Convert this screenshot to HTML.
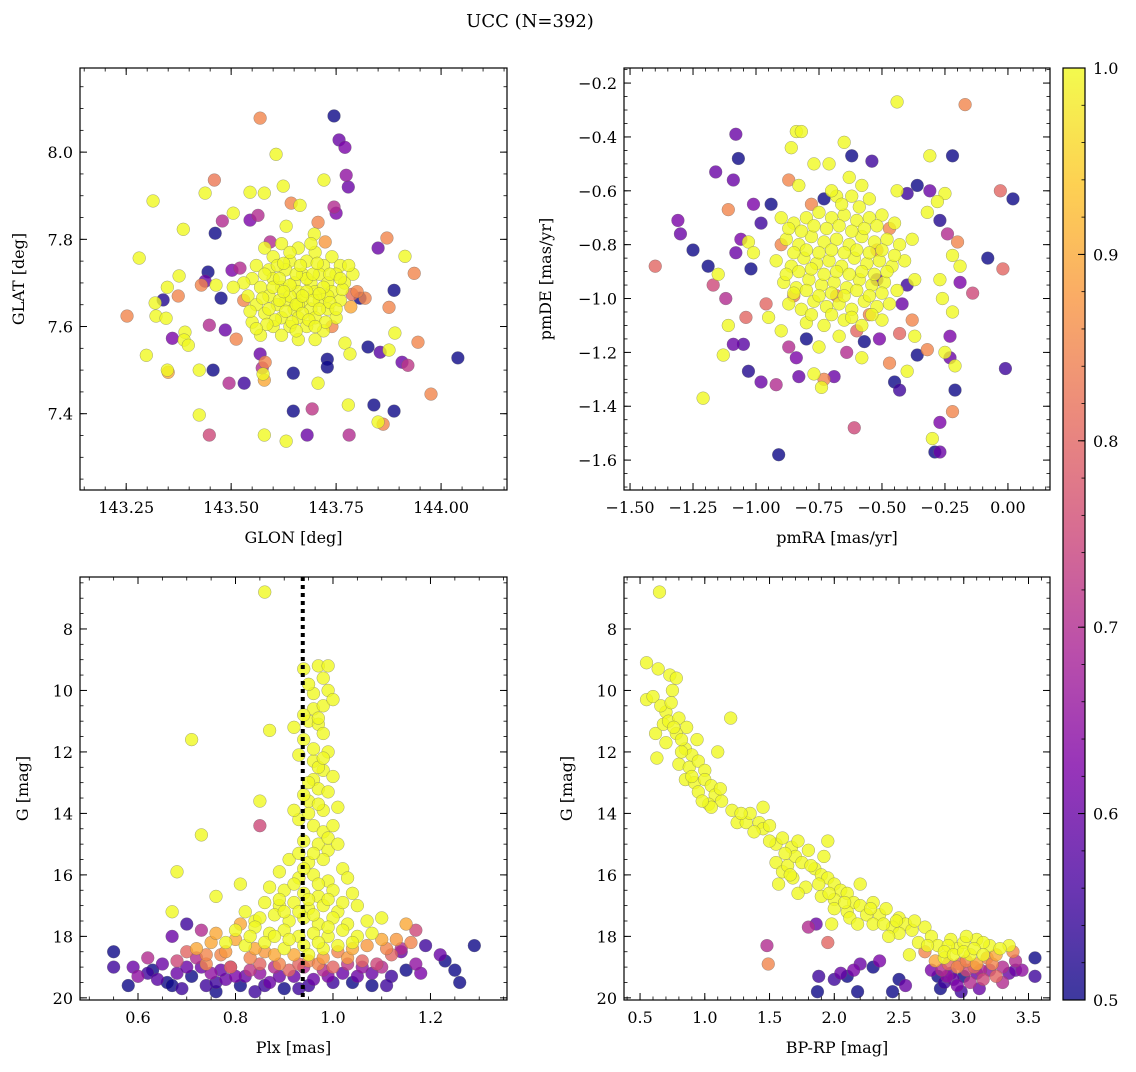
<!DOCTYPE html>
<html><head><meta charset="utf-8">
<style>
html,body{margin:0;padding:0;background:#fff;}
svg text{font-family:"DejaVu Serif","Liberation Serif",serif;fill:#000;}
</style></head>
<body>
<svg id="fig" width="1136" height="1067" viewBox="0 0 1136 1067" xmlns="http://www.w3.org/2000/svg">
<rect width="1136" height="1067" fill="#fff"/>
<text x="530" y="27" font-size="18" text-anchor="middle">UCC (N=392)</text>
<defs>
<linearGradient id="plasma" x1="0" y1="1" x2="0" y2="0">
<stop offset="0" stop-color="#0d0887"/><stop offset="0.125" stop-color="#4903a0"/><stop offset="0.25" stop-color="#7e03a8"/><stop offset="0.375" stop-color="#a92395"/><stop offset="0.5" stop-color="#cc4778"/><stop offset="0.625" stop-color="#e66c5c"/><stop offset="0.75" stop-color="#f89540"/><stop offset="0.875" stop-color="#fdc527"/><stop offset="1" stop-color="#f0f921"/>
</linearGradient>
</defs>
<g id="layer"></g>
</svg>
<script>
// ---------- data ----------
const glonGlatProb = [
[143.745,8.083,.5],[143.569,8.078,.85],[143.757,8.028,.6],[143.771,8.011,.62],[143.607,7.995,1],[143.774,7.947,.65],[143.779,7.920,.6],[143.460,7.936,.83],[143.438,7.906,1],[143.314,7.888,1],
[143.545,7.908,1],[143.579,7.906,1],[143.624,7.922,1],[143.721,7.936,1],[143.664,7.878,1],[143.643,7.883,.85],[143.505,7.860,1],[143.564,7.855,.7],[143.545,7.844,.62],[143.462,7.814,.5],
[143.479,7.842,.7],[143.386,7.823,1],[143.871,7.803,.85],[143.914,7.761,1],[143.281,7.757,1],[143.593,7.794,.7],[143.631,7.830,1],[143.707,7.839,.85],[143.698,7.812,1],[143.724,7.794,.88],
[143.750,7.860,.62],[143.745,7.874,.7],[143.936,7.722,.85],[143.850,7.780,.6],[143.445,7.725,.5],[143.376,7.716,1],[143.502,7.729,.62],[143.521,7.734,.7],[143.438,7.704,.6],[143.429,7.695,.85],
[143.464,7.695,1],[143.348,7.690,1],[143.476,7.665,.5],[143.319,7.654,1],[143.338,7.661,.52],[143.374,7.670,.85],[143.788,7.674,.82],[143.807,7.665,.5],[143.819,7.665,.85],[143.888,7.683,.5],
[143.876,7.644,.85],[143.321,7.624,1],[143.345,7.619,1],[143.252,7.624,.85],[143.448,7.603,.7],[143.486,7.592,.6],[143.512,7.571,.85],[143.390,7.587,1],[143.388,7.569,1],[143.398,7.557,1],
[143.360,7.573,.62],[143.298,7.534,1],[143.348,7.500,1],[143.350,7.495,.9],[143.424,7.500,1],[143.569,7.537,.6],[143.574,7.505,.7],[143.576,7.491,1],[143.579,7.477,.9],[143.581,7.518,.85],
[143.648,7.493,.5],[143.729,7.525,.5],[143.729,7.507,.5],[143.771,7.562,1],[143.783,7.537,1],[143.707,7.470,1],[143.826,7.553,.5],[143.855,7.541,.58],[143.876,7.546,1],[143.890,7.585,1],
[143.907,7.518,.6],[143.921,7.511,.72],[143.945,7.564,.85],[144.040,7.528,.5],[143.457,7.500,.5],[143.495,7.470,.7],[143.531,7.470,.55],[143.424,7.397,1],[143.448,7.351,.75],[143.579,7.351,1],
[143.631,7.337,1],[143.648,7.406,.5],[143.693,7.411,.72],[143.681,7.351,.6],[143.779,7.420,1],[143.781,7.351,.7],[143.840,7.420,.5],[143.850,7.381,1],[143.862,7.376,.85],[143.888,7.406,.5],[143.976,7.445,.85],
[143.58,7.78,1],[143.62,7.79,1],[143.66,7.78,1],[143.70,7.77,1],[143.74,7.76,1],[143.60,7.76,1],[143.64,7.75,1],[143.68,7.75,1],[143.72,7.74,1],[143.76,7.74,1],
[143.56,7.74,1],[143.59,7.73,1],[143.63,7.73,1],[143.67,7.72,1],[143.71,7.72,1],[143.75,7.72,1],[143.79,7.72,1],[143.55,7.71,1],[143.60,7.71,1],[143.65,7.70,1],
[143.69,7.70,1],[143.73,7.70,1],[143.77,7.70,1],[143.57,7.69,1],[143.62,7.69,1],[143.66,7.68,1],[143.70,7.68,1],[143.74,7.68,1],[143.54,7.67,1],[143.59,7.67,1],
[143.63,7.66,1],[143.67,7.66,1],[143.71,7.66,1],[143.76,7.66,1],[143.56,7.65,1],[143.61,7.65,1],[143.65,7.64,1],[143.69,7.64,1],[143.73,7.64,1],[143.58,7.63,1],
[143.62,7.62,1],[143.66,7.62,1],[143.70,7.62,1],[143.75,7.62,1],[143.55,7.61,1],[143.60,7.60,1],[143.64,7.60,1],[143.68,7.60,1],[143.72,7.59,1],[143.62,7.58,1],
[143.66,7.57,1],[143.70,7.57,1],[143.57,7.58,1],[143.78,7.74,1],[143.53,7.70,1],[143.64,7.67,1],[143.68,7.71,1],[143.61,7.74,1],[143.73,7.67,1],[143.66,7.65,1],
[143.80,7.68,.85],[143.53,7.66,.85],[143.74,7.60,.85],
[143.600,7.690,1],[143.640,7.695,1],[143.680,7.680,1],[143.720,7.690,1],[143.615,7.660,1],[143.655,7.650,1],[143.695,7.660,1],[143.735,7.655,1],[143.590,7.640,1],[143.630,7.635,1],
[143.670,7.630,1],[143.710,7.640,1],[143.750,7.640,1],[143.605,7.615,1],[143.645,7.610,1],[143.685,7.615,1],[143.725,7.610,1],[143.575,7.665,1],[143.615,7.710,1],[143.655,7.720,1],
[143.695,7.720,1],[143.735,7.720,1],[143.625,7.745,1],[143.665,7.740,1],[143.705,7.745,1],[143.545,7.635,1],[143.585,7.605,1],[143.765,7.685,1],[143.785,7.645,.9],[143.505,7.690,1],
[143.640,7.770,1],[143.690,7.790,1],[143.580,7.720,1],[143.760,7.710,1],[143.700,7.600,1],[143.655,7.590,1],[143.560,7.595,1],[143.625,7.680,1],[143.670,7.670,1],[143.710,7.675,1]
];
const pmraPmdeProb = [
[-0.44,-0.27,1],[-0.17,-0.28,.85],[-0.84,-0.38,1],[-0.82,-0.38,1],[-0.86,-0.44,1],[-1.08,-0.39,.6],[-0.65,-0.42,1],[-0.62,-0.47,.5],[-0.31,-0.47,1],[-0.22,-0.47,.5],
[-0.54,-0.49,.55],[-0.77,-0.50,1],[-0.71,-0.50,1],[-1.07,-0.48,.5],[-1.16,-0.53,.6],[-1.09,-0.56,.6],[-0.87,-0.56,.85],[-0.83,-0.58,1],[-0.36,-0.58,.5],[-0.31,-0.60,.6],
[-0.25,-0.61,1],[-0.03,-0.60,.8],[0.02,-0.63,.5],[-0.94,-0.65,.5],[-1.01,-0.65,.62],[-0.73,-0.63,.5],[-0.68,-0.62,1],[-0.44,-0.60,1],[-0.40,-0.61,.55],[-0.28,-0.64,1],
[-0.32,-0.68,1],[-0.27,-0.71,.52],[-1.31,-0.71,.62],[-1.11,-0.67,.85],[-1.30,-0.76,.6],[-1.25,-0.82,.5],[-1.40,-0.88,.8],[-1.19,-0.88,.5],[-1.15,-0.91,1],[-1.17,-0.95,.75],
[-1.02,-0.89,.5],[-1.06,-0.78,.62],[-1.08,-0.83,.6],[-1.03,-0.79,1],[-1.01,-0.83,1],[-0.98,-0.72,.55],[-0.24,-0.76,.7],[-0.20,-0.79,.85],[-0.22,-0.84,1],[-0.19,-0.88,1],
[-0.19,-0.94,.62],[-0.08,-0.85,.5],[-0.02,-0.89,.8],[-0.27,-0.93,1],[-0.14,-0.98,.75],[-0.26,-1.00,1],[-0.22,-1.05,1],[-0.23,-1.14,.62],[-0.23,-1.22,.6],[-0.25,-1.20,1],
[-0.21,-1.25,1],[-0.21,-1.34,.5],[-0.22,-1.42,.85],[-0.27,-1.46,.62],[-0.30,-1.52,1],[-0.27,-1.57,.6],[-0.29,-1.57,.5],[-0.01,-1.26,.55],[-1.12,-1.00,.7],[-1.11,-1.10,1],
[-1.09,-1.17,.6],[-1.13,-1.21,1],[-1.21,-1.37,1],[-1.05,-1.17,.58],[-1.03,-1.27,.52],[-1.04,-1.07,.8],[-0.98,-1.31,.6],[-0.92,-1.32,.7],[-0.91,-1.58,.5],[-0.84,-1.22,.62],
[-0.83,-1.29,.6],[-0.77,-1.28,1],[-0.73,-1.30,.85],[-0.74,-1.33,1],[-0.69,-1.29,.6],[-0.61,-1.48,.75],[-0.58,-1.22,1],[-0.47,-1.24,.85],[-0.45,-1.31,.5],[-0.43,-1.34,.55],
[-0.40,-1.27,1],[-0.36,-1.21,.5],[-0.32,-1.19,.85],[-0.37,-1.14,1],[-0.38,-1.08,.85],[-0.43,-1.13,.8],[-0.51,-1.15,.62],[-0.57,-1.16,.5],[-0.64,-1.20,.7],[-0.67,-1.14,1],
[-0.75,-1.18,1],[-0.80,-1.15,.5],[-0.87,-1.18,.7],[-0.90,-1.12,1],[-0.95,-1.07,1],[-0.96,-1.02,.8],[-0.52,-0.93,.6],[-0.40,-0.95,.55],[-0.42,-1.02,.6],
[-0.90,-0.70,1],[-0.85,-0.72,1],[-0.80,-0.70,1],[-0.75,-0.68,1],[-0.70,-0.70,1],[-0.65,-0.69,1],[-0.60,-0.71,1],[-0.55,-0.70,1],[-0.50,-0.69,1],[-0.45,-0.72,1],
[-0.88,-0.78,1],[-0.83,-0.80,1],[-0.78,-0.77,1],[-0.73,-0.79,1],[-0.68,-0.78,1],[-0.63,-0.80,1],[-0.58,-0.77,1],[-0.53,-0.79,1],[-0.48,-0.78,1],[-0.43,-0.80,1],[-0.38,-0.78,1],
[-0.92,-0.86,1],[-0.86,-0.88,1],[-0.81,-0.85,1],[-0.76,-0.87,1],[-0.71,-0.86,1],[-0.66,-0.88,1],[-0.61,-0.85,1],[-0.56,-0.87,1],[-0.51,-0.86,1],[-0.46,-0.88,1],[-0.41,-0.86,1],
[-0.89,-0.94,1],[-0.84,-0.96,1],[-0.79,-0.93,1],[-0.74,-0.95,1],[-0.69,-0.94,1],[-0.64,-0.96,1],[-0.59,-0.93,1],[-0.54,-0.95,1],[-0.49,-0.94,1],[-0.44,-0.97,1],[-0.37,-0.93,1],
[-0.87,-1.02,1],[-0.82,-1.04,1],[-0.77,-1.01,1],[-0.72,-1.03,1],[-0.67,-1.02,1],[-0.62,-1.04,1],[-0.57,-1.01,1],[-0.52,-1.03,1],[-0.47,-1.02,1],
[-0.80,-1.09,1],[-0.73,-1.10,1],[-0.65,-1.08,1],[-0.58,-1.10,1],[-0.50,-1.08,1],[-0.62,-0.62,1],[-0.55,-0.63,1],[-0.70,-0.60,1],[-0.63,-0.55,1],[-0.58,-0.58,1],
[-0.85,-0.99,.85],[-0.68,-0.99,.85],[-0.55,-1.06,.85],[-0.52,-0.82,.85],[-0.90,-0.80,.85],[-0.60,-1.12,.8],[-0.47,-0.74,.85],[-0.78,-0.65,.85],
[-0.87,-0.74,1],[-0.82,-0.75,1],[-0.77,-0.73,1],[-0.72,-0.74,1],[-0.67,-0.73,1],[-0.62,-0.75,1],[-0.57,-0.74,1],[-0.52,-0.73,1],[-0.85,-0.83,1],[-0.80,-0.82,1],
[-0.75,-0.83,1],[-0.70,-0.82,1],[-0.65,-0.83,1],[-0.60,-0.82,1],[-0.55,-0.83,1],[-0.50,-0.82,1],[-0.45,-0.84,1],[-0.88,-0.91,1],[-0.83,-0.90,1],[-0.78,-0.89,1],
[-0.73,-0.91,1],[-0.68,-0.90,1],[-0.63,-0.91,1],[-0.58,-0.90,1],[-0.53,-0.91,1],[-0.48,-0.90,1],[-0.85,-0.98,1],[-0.80,-0.97,1],[-0.75,-0.99,1],[-0.70,-0.98,1],
[-0.65,-0.99,1],[-0.60,-0.97,1],[-0.55,-0.99,1],[-0.50,-0.98,1],[-0.78,-1.06,1],[-0.70,-1.06,1],[-0.62,-1.07,1],[-0.54,-1.06,1],[-0.66,-0.65,1],[-0.59,-0.66,1]
];
const plxGProb = [
[0.86,6.8,1],[0.71,11.6,1],[0.73,14.7,1],[0.85,14.4,.75],[0.85,13.6,1],[0.81,16.3,1],[0.76,16.7,1],[0.67,17.2,1],[0.68,15.9,1],[0.84,17.5,1],
[0.94,9.3,1],[0.97,9.2,1],[0.98,9.6,1],[0.99,9.2,1],[0.96,10.1,1],[0.99,10.0,1],[0.96,10.6,1],[0.98,10.5,1],[1.00,10.3,1],[0.87,11.3,1],
[0.92,11.2,1],[0.95,11.0,1],[0.97,11.1,1],[0.94,11.6,1],[0.98,11.4,1],[0.99,12.0,1],[0.96,12.3,1],[0.98,12.6,1],[0.96,12.9,1],[1.00,12.8,1],
[0.97,13.2,1],[0.99,13.3,1],[0.95,13.6,1],[0.98,13.9,1],[1.01,13.8,1],[0.93,14.2,1],[0.96,14.4,1],[0.98,14.6,1],[1.00,14.4,1],[0.94,14.9,1],
[0.97,15.0,1],[0.99,15.2,1],[0.91,15.5,1],[0.95,15.6,1],[0.98,15.5,1],[1.02,15.8,1],[0.89,15.9,1],[0.93,16.1,1],[0.96,16.0,1],[0.99,16.2,1],
[1.03,16.1,1],[0.87,16.4,1],[0.90,16.5,1],[0.94,16.6,1],[0.97,16.7,1],[1.00,16.5,1],[1.04,16.6,1],[0.86,16.9,1],[0.89,17.0,1],[0.92,16.9,1],
[0.95,17.1,1],[0.98,17.0,1],[1.01,17.2,1],[1.05,17.0,1],[0.82,17.2,1],[0.85,17.4,1],[0.88,17.3,1],[0.91,17.5,1],[0.94,17.4,1],[0.97,17.6,1],
[1.00,17.4,1],[1.03,17.6,1],[1.07,17.5,1],[1.10,17.4,1],[0.80,17.8,1],[0.84,17.7,1],[0.87,17.9,1],[0.90,17.8,1],[0.93,18.0,1],[0.96,17.9,1],
[0.99,18.0,1],[1.02,17.8,1],[1.05,18.0,1],[0.78,18.2,1],[0.82,18.3,1],[0.86,18.2,1],[0.90,18.4,1],[0.94,18.3,1],[0.98,18.4,1],[1.01,18.3,1],
[0.95,13.0,1],[0.93,15.3,1],[0.96,11.9,1],[0.94,10.8,1],
[0.95,9.8,1],[0.97,10.9,1],[0.93,12.1,1],[0.97,12.5,1],[0.94,13.4,1],[0.97,13.7,1],[0.95,14.0,1],[0.99,14.8,1],[0.96,15.3,1],[0.94,15.8,1],
[0.97,16.3,1],[0.92,16.3,1],[0.95,16.8,1],[0.99,16.8,1],[0.93,17.2,1],[0.96,17.3,1],[0.99,17.7,1],[0.91,18.1,1],[0.95,18.6,1],[0.88,18.0,1],
[0.83,18.0,1],[1.04,18.2,1],[1.08,17.9,1],[0.89,16.8,1],[1.02,16.9,1],[0.92,13.9,1],[0.98,12.2,1],[1.01,15.0,1],[0.90,17.2,1],[0.97,18.2,1],
[0.72,18.4,.9],[0.75,18.2,.9],[0.77,18.6,.85],[0.80,18.1,.9],[0.83,18.7,.85],[0.86,18.5,.88],[0.89,18.9,.85],[0.92,18.6,.9],[0.95,18.8,.85],[0.98,18.7,.88],
[1.01,18.5,.85],[1.04,18.4,.9],[1.07,18.3,.88],[1.10,18.1,.9],[1.13,18.1,.88],[1.15,17.6,.9],[1.16,18.2,.85],[0.74,18.9,.85],[0.70,18.5,.8],[0.68,18.8,.75],
[0.79,19.0,.8],[0.85,18.9,.8],[0.91,19.1,.8],[1.00,19.0,.8],[1.06,18.8,.8],[1.12,18.6,.8],[1.17,17.8,.75],[0.76,17.9,.9],[0.81,17.6,.9],[1.09,18.9,.75],
[0.78,18.5,.88],[0.88,18.6,.9],[0.97,18.9,.85],[1.03,18.7,.88],[0.84,18.4,.9],[0.74,18.6,.85],[1.11,18.4,.85],[0.93,18.9,.8],
[0.55,18.5,.5],[0.55,19.0,.55],[0.58,19.6,.5],[0.59,19.0,.6],[0.62,18.7,.7],[0.63,19.1,.5],[0.65,18.9,.6],[0.66,19.5,.5],[0.68,19.2,.6],[0.69,19.7,.55],
[0.70,17.6,.55],[0.67,18.0,.6],[0.71,19.3,.5],[0.73,19.0,.6],[0.74,19.6,.55],[0.75,19.2,.65],[0.76,19.8,.5],[0.78,19.4,.6],[0.79,19.0,.7],[0.81,19.6,.5],
[0.82,19.3,.6],[0.84,19.8,.55],[0.85,19.2,.65],[0.87,19.5,.6],[0.88,19.0,.7],[0.90,19.7,.5],[0.92,19.3,.6],[0.93,19.7,.55],[0.96,19.4,.6],[0.98,19.1,.7],
[1.00,19.5,.55],[1.02,19.2,.6],[1.04,19.5,.5],[1.06,19.0,.65],[1.08,19.2,.6],[1.10,19.0,.7],[1.12,19.3,.55],[1.14,18.5,.6],[1.15,19.1,.5],[1.17,18.9,.65],
[1.19,18.3,.55],[1.22,18.6,.6],[1.23,18.8,.5],[1.25,19.1,.5],[1.26,19.5,.5],[1.29,18.3,.5],[1.14,18.4,.7],[1.18,19.2,.62],[0.64,19.4,.58],[0.72,18.7,.7],
[0.83,19.1,.72],[0.94,19.0,.7],[1.03,18.9,.72],[0.77,19.1,.6],[0.86,19.6,.55],[1.08,19.6,.5],[0.73,17.8,.7],[0.60,19.3,.65],
[0.70,19.0,.6],[0.76,19.5,.55],[0.80,19.3,.62],[0.89,19.3,.6],[0.95,19.6,.55],[0.99,19.3,.62],[1.05,19.3,.6],[1.11,19.6,.55],[0.67,19.6,.5],[0.62,19.2,.55]
];
const bprpGProb = [
[0.55,9.1,1],[0.64,9.3,1],[0.73,9.5,1],[0.78,9.6,1],[0.75,10.0,1],[0.55,10.3,1],[0.70,10.7,1],[0.62,11.4,1],[0.68,11.1,1],[0.72,11.0,1],
[0.80,10.9,1],[0.86,11.2,1],[0.78,11.4,1],[0.94,11.6,1],[0.70,11.7,1],[0.85,11.9,1],[0.63,12.2,1],[0.90,12.1,1],[0.80,12.4,1],[0.88,12.5,1],
[0.95,12.3,1],[1.00,12.6,1],[0.85,12.9,1],[0.92,13.0,1],[1.00,12.9,1],[1.05,13.1,1],[0.95,13.3,1],[1.08,13.4,1],[1.13,13.6,1],[1.03,13.7,1],
[1.20,10.9,1],[1.21,13.9,1],[1.25,14.3,1],[1.32,14.3,1],[1.35,14.0,1],[1.42,14.3,1],[1.45,14.5,1],[1.50,14.4,1],[1.55,15.0,1],[1.60,14.8,1],
[1.67,15.1,1],[1.55,15.6,1],[1.60,15.9,1],[1.64,15.7,1],[1.70,15.4,1],[1.75,15.6,1],[1.80,15.2,1],[1.85,15.8,1],[1.90,16.0,1],[1.57,16.3,1],
[1.68,16.1,1],[1.78,16.4,1],[1.95,16.1,1],[2.0,16.3,1],[2.05,16.5,1],[1.90,16.7,1],[2.0,16.8,1],[2.1,16.6,1],[2.15,16.9,1],[2.0,17.1,1],
[2.1,17.2,1],[2.2,17.0,1],[2.25,17.3,1],[2.35,17.3,1],[2.4,17.1,1],[2.5,17.4,1],[2.3,17.6,1],[2.45,17.7,1],[2.55,17.6,1],[2.6,17.8,1],
[2.7,17.7,1],[2.5,17.9,1],[2.75,18.0,1],[2.65,18.2,1],[2.8,18.3,1],[2.9,18.1,1],[2.95,18.4,1],[3.0,18.2,1],[3.1,18.1,1],[3.2,18.3,1],
[3.35,18.3,1],[1.98,17.6,1],[1.95,14.9,1],[1.92,15.4,1],[1.72,14.9,1],[2.58,18.6,1],[2.85,18.7,1],[3.05,18.6,1],[2.2,16.3,1],[2.3,16.9,1],
[1.45,13.8,1],[1.1,12.0,1],[1.05,13.8,1],[0.82,12.0,1],[0.65,6.8,1],
[0.60,10.2,1],[0.66,10.5,1],[0.74,10.4,1],[0.76,11.2,1],[0.82,11.6,1],[0.90,12.8,1],[0.98,13.6,1],[1.12,13.2,1],[1.28,14.0,1],[1.38,14.6,1],
[1.50,14.9,1],[1.62,15.3,1],[1.66,16.0,1],[1.82,15.7,1],[1.88,16.3,1],[1.96,16.6,1],[2.08,16.9,1],[2.12,17.4,1],[2.28,17.1,1],[2.38,17.6,1],
[2.48,17.5,1],[2.62,17.5,1],[2.72,18.3,1],[2.88,18.3,1],[3.02,18.0,1],[3.15,18.2,1],[3.28,18.4,1],[2.42,18.0,1],[2.18,17.6,1],[1.72,16.6,1],
[1.48,18.3,.7],[1.49,18.9,.85],[1.80,17.7,.7],[1.86,17.6,.6],[1.95,18.2,.8],[1.88,19.3,.55],[2.0,19.4,.55],[2.1,19.3,.5],[2.05,19.2,.6],[2.15,19.1,.62],
[2.2,18.9,.6],[2.3,19.0,.5],[2.35,18.8,.62],[1.87,19.8,.5],[2.18,19.8,.5],[2.45,19.8,.5],[2.55,19.6,.6],[2.5,19.4,.5],[3.55,18.7,.5],[3.55,19.3,.55],
[3.45,19.1,.65],[3.4,18.8,.7],
[2.8,19.3,.5],[2.85,19.5,.55],[2.9,19.2,.6],[2.95,19.6,.62],[3.0,19.3,.5],[3.05,19.5,.7],[3.1,19.2,.6],[3.15,19.4,.75],[3.2,19.1,.65],[3.25,19.3,.8],
[3.3,19.0,.7],[2.88,18.9,.8],[2.95,19.0,.85],[3.02,18.8,.85],[3.1,18.9,.9],[3.18,18.7,.85],[3.25,18.6,.9],[2.78,18.8,.9],[2.85,18.5,1],[2.92,18.6,1],
[3.0,18.5,1],[3.08,18.4,1],[2.98,19.8,.55],[3.12,19.7,.6],[2.82,19.7,.5],[3.35,19.2,.6],[3.3,19.5,.7],[2.75,19.1,.62],[2.7,18.5,.85],[3.15,18.6,1],
[2.83,19.1,.7],[2.92,19.4,.6],[3.02,19.1,.75],[3.08,19.0,.8],[3.22,18.9,.85],[2.87,19.3,.65],[2.97,18.9,.8],[3.13,19.1,.7],[3.40,19.1,.6],[3.38,18.5,.85]
];
const plxMedian = 0.938;
const p1XTicks = [143.25,143.50,143.75,144.00];
const p1YTicks = [7.4,7.6,7.8,8.0];
const p2XTicks = [-1.50,-1.25,-1.00,-0.75,-0.50,-0.25,0.00];
const p2YTicks = [-1.6,-1.4,-1.2,-1.0,-0.8,-0.6,-0.4,-0.2];
const p3XTicks = [0.6,0.8,1.0,1.2];
const gTicks = [8,10,12,14,16,18,20];
const p4XTicks = [0.5,1.0,1.5,2.0,2.5,3.0,3.5];
const cbTicks = [0.5,0.6,0.7,0.8,0.9,1.0];

// ---------- helpers ----------
const NS="http://www.w3.org/2000/svg";
const layer=document.getElementById('layer');
function mk(tag,attrs,parent){const e=document.createElementNS(NS,tag);for(const k in attrs)e.setAttribute(k,attrs[k]);(parent||layer).appendChild(e);return e;}
const stops=[[0,[13,8,135]],[0.125,[73,3,160]],[0.25,[126,3,168]],[0.375,[169,35,149]],[0.5,[204,71,120]],[0.625,[230,108,92]],[0.75,[248,149,64]],[0.875,[253,197,39]],[1,[240,249,33]]];
function plasma(p){let t=Math.max(0,Math.min(1,(p-0.5)/0.5));for(let i=1;i<stops.length;i++){if(t<=stops[i][0]){const a=stops[i-1],b=stops[i];const f=(t-a[0])/(b[0]-a[0]);const c=a[1].map((v,j)=>Math.round(v+(b[1][j]-v)*f));return `rgb(${c[0]},${c[1]},${c[2]})`;}}return 'rgb(240,249,33)';}
function fmt(v,d){let s=v.toFixed(d);if(v<0)s='\u2212'+s.slice(1);return s;}

function panel(cfg){
  const {name,L,T,R,B,xmin,xmax,ymin,ymax,xticks,yticks,xminor,yminor,xdec,ydec,data,xlabel,ylabel,ylabX,invert}=cfg;
  const g=mk('g',{});
  
  
  const sx=v=>L+(v-xmin)/(xmax-xmin)*(R-L);
  const sy=invert?(v=>T+(v-ymin)/(ymax-ymin)*(B-T)):(v=>B-(v-ymin)/(ymax-ymin)*(B-T));
  const cp='clip-'+name;
  const c=mk('clipPath',{id:cp},g);mk('rect',{x:L,y:T,width:R-L,height:B-T},c);
  const pts=mk('g',{'clip-path':`url(#${cp})`},g);
  
  
  const sorted=data.slice().sort((a,b)=>a[2]-b[2]);
  sorted.forEach(d=>{
    const e=mk('circle',{cx:sx(d[0]),cy:sy(d[1]),r:6.4,fill:plasma(d[2]),'fill-opacity':0.8,stroke:'#666','stroke-opacity':0.6,'stroke-width':0.5},pts);
    
    
  });
  if(cfg.vline!==undefined){
    const vl=mk('line',{x1:sx(cfg.vline),x2:sx(cfg.vline),y1:T,y2:B,stroke:'#000','stroke-width':4,'stroke-dasharray':'4,4'},g);
    
    
  }
  const fr=mk('rect',{x:L,y:T,width:R-L,height:B-T,fill:'none',stroke:'#000','stroke-width':1.2},g);
  
  
  const lo=Math.min(xmin,xmax),hi=Math.max(xmin,xmax);
  for(let v=Math.ceil(lo/xminor-1e-9)*xminor;v<=hi+1e-9;v+=xminor){const x=sx(v);mk('line',{x1:x,x2:x,y1:B,y2:B-3.5,stroke:'#000','stroke-width':0.8},g);mk('line',{x1:x,x2:x,y1:T,y2:T+3.5,stroke:'#000','stroke-width':0.8},g);}
  const ylo=Math.min(ymin,ymax),yhi=Math.max(ymin,ymax);
  for(let v=Math.ceil(ylo/yminor-1e-9)*yminor;v<=yhi+1e-9;v+=yminor){const y=sy(v);mk('line',{x1:L,x2:L+3.5,y1:y,y2:y,stroke:'#000','stroke-width':0.8},g);mk('line',{x1:R,x2:R-3.5,y1:y,y2:y,stroke:'#000','stroke-width':0.8},g);}
  xticks.forEach(v=>{const x=sx(v);mk('line',{x1:x,x2:x,y1:B,y2:B-7,stroke:'#000','stroke-width':1},g);mk('line',{x1:x,x2:x,y1:T,y2:T+7,stroke:'#000','stroke-width':1},g);
    const t=mk('text',{x:x,y:B+23,'font-size':16,'text-anchor':'middle'},g);t.textContent=fmt(v,xdec);
    
    });
  yticks.forEach(v=>{const y=sy(v);mk('line',{x1:L,x2:L+7,y1:y,y2:y,stroke:'#000','stroke-width':1},g);mk('line',{x1:R,x2:R-7,y1:y,y2:y,stroke:'#000','stroke-width':1},g);
    const t=mk('text',{x:L-7,y:y+6,'font-size':16,'text-anchor':'end'},g);t.textContent=fmt(v,ydec);
    
    });
  const xl=mk('text',{x:(L+R)/2,y:B+53,'font-size':16,'text-anchor':'middle'},g);xl.textContent=xlabel;
  
  
  const yl=mk('text',{x:ylabX,y:(T+B)/2,'font-size':16,'text-anchor':'middle',transform:`rotate(-90 ${ylabX} ${(T+B)/2})`},g);yl.textContent=ylabel;
  
  
}

panel({name:'glon-glat-panel',L:80,T:68,R:507,B:490,xmin:143.140,xmax:144.157,ymin:7.225,ymax:8.193,xticks:p1XTicks,yticks:p1YTicks,xminor:0.05,yminor:0.05,xdec:2,ydec:1,data:glonGlatProb,xlabel:'GLON [deg]',ylabel:'GLAT [deg]',ylabX:24});
panel({name:'pm-panel',L:624,T:68,R:1050,B:490,xmin:-1.524,xmax:0.167,ymin:-1.711,ymax:-0.144,xticks:p2XTicks,yticks:p2YTicks,xminor:0.05,yminor:0.05,xdec:2,ydec:1,data:pmraPmdeProb,xlabel:'pmRA [mas/yr]',ylabel:'pmDE [mas/yr]',ylabX:551});
panel({name:'plx-g-panel',L:80,T:577,R:507,B:1000,xmin:0.481,xmax:1.357,ymin:6.31,ymax:20.07,xticks:p3XTicks,yticks:gTicks,xminor:0.05,yminor:0.5,xdec:1,ydec:0,data:plxGProb,xlabel:'Plx [mas]',ylabel:'G [mag]',ylabX:28,invert:true,vline:plxMedian});
panel({name:'cmd-panel',L:624,T:577,R:1050,B:1000,xmin:0.376,xmax:3.666,ymin:6.31,ymax:20.07,xticks:p4XTicks,yticks:gTicks,xminor:0.1,yminor:0.5,xdec:1,ydec:0,data:bprpGProb,xlabel:'BP-RP [mag]',ylabel:'G [mag]',ylabX:572,invert:true});

// colorbar
const cb=mk('g',{});


const cT=68,cB=1000,cL=1063,cR=1085;
mk('rect',{x:cL,y:cT,width:cR-cL,height:cB-cT,fill:'url(#plasma)','fill-opacity':0.8},cb);
mk('rect',{x:cL,y:cT,width:cR-cL,height:cB-cT,fill:'none',stroke:'#000','stroke-width':1.2},cb);
const cy=v=>cB-(v-0.5)/0.5*(cB-cT);
for(let i=0;i<=25;i++){const y=cy(0.5+i*0.02);mk('line',{x1:cR,x2:cR-3.5,y1:y,y2:y,stroke:'#000','stroke-width':0.8},cb);}
cbTicks.forEach(v=>{const y=cy(v);mk('line',{x1:cR,x2:cR-7,y1:y,y2:y,stroke:'#000','stroke-width':1},cb);
  const t=mk('text',{x:cR+8,y:y+6,'font-size':16},cb);t.textContent=v.toFixed(1);
  
  });
</script>
</body></html>
